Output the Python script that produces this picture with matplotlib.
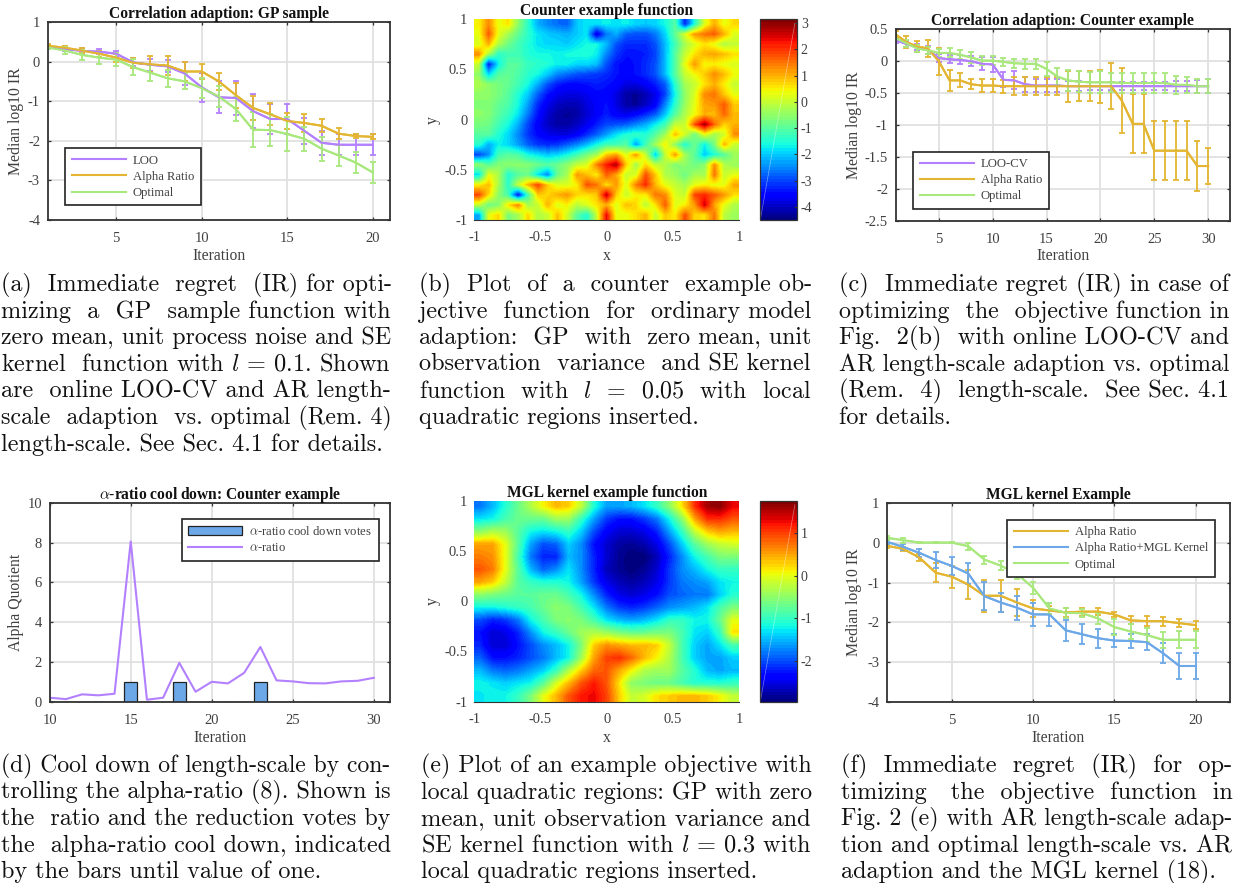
import matplotlib
matplotlib.use('Agg')
from matplotlib import pyplot as plt
from matplotlib.ticker import FormatStrFormatter
from matplotlib.transforms import Affine2D
import numpy as np

W, H = 1233, 883

plt.rcParams['font.family'] = ['Liberation Serif', 'DejaVu Serif']
plt.rcParams['mathtext.fontset'] = 'cm'
plt.rcParams['axes.unicode_minus'] = False

PURPLE = '#b380ff'
GOLD = '#e3b530'
GREEN = '#a8e87c'
BLUE = '#6ca8e8'
DARK = '#333333'
TEXT = '#404040'

# (a) GP sample
a_loo = [0.37, 0.32, 0.27, 0.25, 0.2, -0.02, -0.08, -0.12, -0.3, -0.65, -0.9, -0.92, -1.25, -1.45, -1.45, -1.75, -2.05, -2.1, -2.1, -2.1]
a_loo_err = [0.05, 0.06, 0.07, 0.06, 0.08, 0.1, 0.15, 0.15, 0.28, 0.36, 0.4, 0.42, 0.42, 0.38, 0.37, 0.32, 0.3, 0.27, 0.27, 0.27]
a_alpha = [0.4, 0.35, 0.28, 0.2, 0.1, -0.03, -0.07, -0.1, -0.25, -0.25, -0.5, -0.85, -1.17, -1.33, -1.5, -1.55, -1.62, -1.82, -1.88, -1.9]
a_alpha_err = [0.04, 0.05, 0.06, 0.08, 0.1, 0.12, 0.2, 0.24, 0.25, 0.2, 0.22, 0.32, 0.3, 0.28, 0.2, 0.22, 0.17, 0.14, 0.06, 0.06]
a_opt = [0.36, 0.28, 0.17, 0.1, 0.05, -0.14, -0.28, -0.42, -0.5, -0.67, -0.88, -1.2, -1.72, -1.73, -1.83, -1.95, -2.2, -2.37, -2.55, -2.8]
a_opt_err = [0.04, 0.09, 0.13, 0.15, 0.17, 0.2, 0.2, 0.22, 0.2, 0.25, 0.26, 0.3, 0.44, 0.4, 0.42, 0.3, 0.3, 0.27, 0.27, 0.27]

# (c) counter example
c_loo = [0.33, 0.27, 0.22, 0.18, 0.05, 0.03, 0.02, 0.0, -0.04, -0.05, -0.29, -0.3, -0.36, -0.38, -0.38, -0.38, -0.39, -0.39, -0.39, -0.39, -0.39, -0.39, -0.39, -0.39, -0.39, -0.39, -0.39, -0.39, -0.39, -0.39]
c_loo_err = [0.04, 0.04, 0.05, 0.06, 0.06, 0.06, 0.07, 0.08, 0.1, 0.12, 0.12, 0.14, 0.12, 0.1, 0.1, 0.1, 0.08, 0.08, 0.06, 0.06, 0.06, 0.06, 0.06, 0.06, 0.06, 0.06, 0.08, 0.08, 0.1, 0.11]
c_alpha = [0.42, 0.3, 0.23, 0.2, 0.0, -0.3, -0.3, -0.36, -0.38, -0.38, -0.39, -0.39, -0.39, -0.39, -0.39, -0.39, -0.39, -0.39, -0.39, -0.39, -0.39, -0.62, -0.98, -0.98, -1.4, -1.4, -1.4, -1.4, -1.64, -1.64]
c_alpha_err = [0.06, 0.1, 0.08, 0.14, 0.21, 0.16, 0.11, 0.08, 0.1, 0.1, 0.1, 0.14, 0.14, 0.14, 0.14, 0.14, 0.24, 0.23, 0.23, 0.26, 0.36, 0.51, 0.46, 0.46, 0.46, 0.46, 0.46, 0.46, 0.39, 0.28]
c_opt = [0.36, 0.28, 0.2, 0.17, 0.13, 0.13, 0.1, 0.06, 0.01, 0.01, -0.01, -0.03, -0.04, -0.04, -0.12, -0.24, -0.3, -0.32, -0.33, -0.33, -0.33, -0.34, -0.34, -0.34, -0.34, -0.34, -0.37, -0.37, -0.39, -0.39]
c_opt_err = [0.04, 0.05, 0.05, 0.06, 0.06, 0.07, 0.07, 0.08, 0.07, 0.07, 0.06, 0.07, 0.08, 0.08, 0.11, 0.13, 0.16, 0.16, 0.16, 0.17, 0.15, 0.15, 0.15, 0.15, 0.15, 0.15, 0.14, 0.12, 0.11, 0.11]

# (d) cool down
d_iter = [10, 11, 12, 13, 14, 15, 16, 17, 18, 19, 20, 21, 22, 23, 24, 25, 26, 27, 28, 29, 30]
d_ratio = [0.2, 0.13, 0.37, 0.32, 0.4, 8.05, 0.1, 0.2, 1.95, 0.5, 1.0, 0.92, 1.45, 2.75, 1.07, 1.02, 0.93, 0.92, 1.02, 1.05, 1.2]
d_votes = [0, 0, 0, 0, 0, 1, 0, 0, 1, 0, 0, 0, 0, 1, 0, 0, 0, 0, 0, 0, 0]

# (f) MGL kernel
f_alpha = [-0.07, -0.15, -0.37, -0.75, -0.85, -1.05, -1.33, -1.33, -1.5, -1.65, -1.7, -1.75, -1.73, -1.73, -1.8, -1.95, -1.97, -1.97, -2.02, -2.07]
f_alpha_err = [0.05, 0.06, 0.09, 0.24, 0.28, 0.36, 0.4, 0.4, 0.35, 0.22, 0.1, 0.12, 0.1, 0.08, 0.07, 0.1, 0.12, 0.11, 0.1, 0.1]
f_mgl = [0.03, -0.1, -0.25, -0.43, -0.58, -0.77, -1.34, -1.5, -1.63, -1.8, -1.8, -2.2, -2.3, -2.4, -2.46, -2.47, -2.5, -2.78, -3.1, -3.1]
f_mgl_err = [0.05, 0.07, 0.11, 0.2, 0.22, 0.27, 0.35, 0.25, 0.3, 0.3, 0.28, 0.27, 0.25, 0.24, 0.17, 0.17, 0.2, 0.25, 0.32, 0.33]
f_opt = [0.13, 0.07, 0.01, 0.01, 0.01, -0.08, -0.42, -0.57, -0.78, -1.13, -1.65, -1.76, -1.77, -1.9, -2.12, -2.23, -2.32, -2.44, -2.44, -2.44]
f_opt_err = [0.05, 0.06, 0.01, 0.01, 0.01, 0.09, 0.1, 0.11, 0.13, 0.15, 0.14, 0.13, 0.1, 0.14, 0.2, 0.18, 0.17, 0.2, 0.21, 0.21]

# (b) counter example function, top row is y = 1
b_grid = [
    [.5, 1.3, .3, .6, -.5, -1.4, -2.2, -2.5, -2.7, -2.8, -2.0, -1.8, -1.8, -1.7, -1.8, -1.7, -1.9, -2.0, -1.9, -1.6, -1.0, -3.2, -1.5, .2, 1.0, .3, .7],
    [.3, 1.7, .3, -.3, -.9, -1.4, -1.8, -2.0, -2.1, -2.2, -2.0, -1.8, -3.8, -2.6, -2.2, -2.8, -2.9, -2.9, -2.6, -1.9, -.9, .2, 1.2, 1.5, 1.7, 1.0, .2],
    [.2, 1.0, -.2, -.8, -1.2, -1.5, -1.8, -1.9, -1.9, -2.0, -1.8, -1.6, -1.6, -2.1, -2.9, -3.2, -3.2, -3.2, -2.9, -2.1, -1.2, -.3, .2, .6, .3, -.2, .0],
    [1.3, -.3, -1.4, -1.2, -1.2, -1.5, -1.6, -1.6, -1.7, -1.6, -1.5, -1.5, -1.7, -2.5, -3.1, -3.4, -3.4, -3.3, -3.0, -2.1, -1.0, .0, .6, 1.0, 1.1, .9, .6],
    [.0, -3.3, -1.7, -1.0, -1.0, -1.3, -1.4, -1.5, -1.7, -1.7, -1.9, -1.9, -2.1, -2.9, -3.4, -3.5, -3.4, -3.2, -2.9, -2.1, -1.0, .3, 1.2, .4, .5, .3, .2],
    [-.5, -1.9, -1.0, -.9, -1.1, -1.4, -1.6, -2.0, -2.5, -2.7, -2.9, -3.0, -3.1, -3.2, -3.4, -3.5, -3.4, -3.2, -2.9, -2.1, -1.0, .0, .4, .8, 1.3, .9, .4],
    [-.2, -.5, -.7, -.9, -1.2, -1.6, -2.2, -2.9, -3.3, -3.5, -3.5, -3.4, -3.3, -3.4, -3.5, -3.8, -3.8, -3.6, -3.3, -2.8, -1.4, -.3, .0, .6, 1.0, .5, .0],
    [-.5, -.5, -.7, -1.0, -1.5, -2.0, -2.8, -3.4, -3.7, -3.8, -3.8, -3.7, -3.5, -3.5, -3.8, -4.2, -4.3, -4.1, -3.7, -3.0, -1.6, -.5, .2, 1.3, 1.5, .8, .3],
    [-.6, -.6, -.9, -1.1, -1.6, -2.3, -3.2, -3.7, -4.0, -4.1, -4.1, -3.8, -3.6, -3.4, -3.8, -4.2, -4.3, -4.0, -3.6, -2.5, -1.4, -.4, .3, 1.1, 1.2, 1.7, .8],
    [-.5, -.6, -1.0, -1.3, -1.8, -2.6, -3.4, -3.9, -4.2, -4.3, -4.2, -3.9, -3.6, -3.3, -3.6, -3.7, -3.5, -3.2, -2.8, -2.0, -1.0, -.2, .4, 1.0, .9, 1.6, .9],
    [-.7, -.8, -1.2, -1.6, -2.2, -3.0, -3.6, -4.0, -4.2, -4.2, -4.0, -3.7, -3.3, -3.0, -2.9, -2.8, -2.5, -2.2, -1.7, -1.2, .0, .0, 1.8, 2.9, 1.6, .7, 1.0],
    [-1.0, -1.0, -1.5, -1.9, -2.5, -3.1, -3.5, -3.7, -3.8, -3.8, -3.6, -3.2, -2.8, -2.3, -1.8, -1.5, -1.3, -1.5, -1.0, -.3, .9, .1, -.8, .3, -.3, .1, 1.3],
    [-1.4, -2.2, -1.7, -1.9, -2.3, -2.8, -3.1, -3.2, -3.1, -2.8, -2.5, -2.1, -1.6, -1.2, -1.2, -1.0, -2.3, -1.2, -.3, .5, -.5, -1.5, -.8, -1.7, -.7, 1.0, .0],
    [-3.0, -2.4, -1.2, -1.0, -1.1, -1.6, -1.8, -2.0, -1.9, -1.6, -1.2, -.7, -.3, .8, 1.1, .2, 1.2, .0, -2.0, .0, 1.2, -.3, -1.0, -2.0, -1.5, -1.0, -.4],
    [-.5, -1.0, -.6, -.5, -.5, -.6, -.8, -1.0, -.8, -.5, .0, .2, 1.4, 2.2, 2.8, .8, -.3, .7, .0, -.2, -.6, -.5, -.8, -.5, 1.3, -.2, -.4],
    [-1.8, .3, -.2, -1.5, -1.0, -.8, -1.8, -2.5, -.8, -.3, 1.2, .9, .5, 1.7, 1.1, .0, .2, 1.8, .8, -.2, -.4, -.8, -.3, -.3, 1.5, .0, .3],
    [.5, .9, -.3, -1.4, .0, 1.0, 1.9, .8, .2, .2, .5, 1.8, 1.5, .6, 1.2, .2, 1.4, 2.1, .9, .3, .0, -.3, .3, .5, .3, .3, 1.1],
    [1.9, .7, -.5, -1.2, -3.4, -1.2, .8, .7, 1.0, 1.2, .7, .6, .8, 2.7, .8, .0, .5, .5, 1.5, 1.3, .2, .0, 1.9, 2.1, 1.7, 1.2, .6],
    [.0, -.8, -.6, .6, 1.4, -.3, .0, 1.0, .2, .5, -.1, .2, .6, 1.0, .2, .9, .7, -.1, .6, 1.7, .2, .5, 1.2, 2.6, 1.1, .3, -.2],
    [-2.3, .3, .7, -.7, -.3, .7, -.2, .0, .9, .1, -1.0, -1.5, .0, 2.4, .3, .3, .6, 1.0, .0, .8, .5, 1.8, .7, .6, 1.5, -.1, -.4],
]

# (e) MGL kernel function, top row is y = 1
e_grid = [
    [-1.8, -1.5, -1.1, -.7, -.3, .1, .4, .3, -.2, -1.1, -1.6, -1.6, -1.5, -1.3, -1.0, -.5, .2, 1.1, 1.6, 1.7, 1.3],
    [-1.3, -1.2, -.9, -.7, -.7, -.7, -.4, -.4, -1.0, -1.6, -2.1, -2.3, -2.3, -2.1, -1.8, -1.2, -.5, .5, 1.1, 1.1, .9],
    [-.5, -.3, -.4, -.8, -1.2, -1.3, -1.2, -1.0, -1.4, -2.0, -2.4, -2.6, -2.6, -2.5, -2.2, -1.6, -1.0, -.2, .3, .5, .4],
    [.5, .5, .0, -.8, -1.6, -2.0, -1.9, -1.4, -1.7, -2.3, -2.6, -2.8, -2.85, -2.75, -2.5, -2.0, -1.4, -.8, -.4, -.2, -.1],
    [.7, .6, .0, -.9, -1.8, -2.2, -2.2, -1.5, -1.7, -2.2, -2.6, -2.85, -2.97, -2.95, -2.7, -2.2, -1.7, -1.2, -.9, -.6, -.6],
    [.9, .7, .0, -.8, -1.5, -1.9, -1.7, -1.3, -1.7, -2.2, -2.7, -2.85, -2.95, -2.85, -2.6, -2.1, -1.7, -1.5, -1.2, -1.0, -1.0],
    [.5, .3, -.2, -.8, -1.0, -1.1, -1.1, -1.2, -1.6, -2.1, -2.5, -2.7, -2.8, -2.7, -2.5, -2.1, -1.8, -1.7, -1.6, -1.3, -1.2],
    [-.5, -.6, -.7, -.8, -.8, -.7, -.7, -.9, -1.2, -1.7, -2.2, -2.5, -2.6, -2.5, -2.3, -2.0, -1.9, -1.8, -1.8, -1.4, -1.1],
    [-1.2, -1.2, -1.1, -1.0, -.9, -.7, -.5, -.6, -.9, -1.3, -1.8, -2.1, -2.2, -2.1, -1.9, -1.7, -1.6, -1.5, -1.3, -.9, -.6],
    [-2.0, -2.2, -2.1, -1.8, -1.2, -.9, -.6, -.5, -.6, -.9, -1.3, -1.5, -1.6, -1.5, -1.3, -1.0, -1.0, -1.2, -1.2, -.7, .0],
    [-2.3, -2.6, -2.5, -2.2, -1.7, -1.2, -1.0, -.7, -.4, -.3, -.4, -.6, -.7, -.7, -.6, -.6, -.9, -1.3, -1.4, -1.0, .2],
    [-2.2, -2.6, -2.6, -2.3, -2.0, -1.7, -1.5, -1.2, -.6, .3, .6, .5, .4, .4, .3, -.2, -.9, -1.4, -1.6, -1.3, -.9],
    [-1.9, -2.3, -2.3, -2.2, -2.0, -1.8, -1.5, -1.2, -.4, .5, 1.0, 1.1, .8, .4, .1, -.3, -.9, -1.4, -1.6, -1.6, -1.4],
    [-1.5, -1.8, -1.9, -1.8, -1.6, -1.4, -1.0, -.3, .3, .8, .9, .5, .1, -.3, -.4, -.4, -.8, -1.1, -1.5, -1.6, -1.5],
    [-1.2, -1.3, -1.4, -1.3, -1.2, -.8, -.1, .4, .9, 1.2, .9, .2, -.5, -.6, -.7, -.7, -.9, -1.1, -1.1, -1.1, -1.0],
    [-1.3, -1.2, -1.2, -1.0, -.6, .0, .4, .9, 1.2, 1.3, 1.0, .3, -.2, -.1, .2, .3, .4, .4, .3, .1, -.2],
]

# captions: (left, right, first baseline, lines)
captions = [
    (1, 391, 291, ['(a) Immediate regret (IR) for opti-', 'mizing a GP sample function with', 'zero mean, unit process noise and SE', 'kernel function with $l$ = 0.1. Shown', 'are online LOO-CV and AR length-', 'scale adaption vs. optimal (Rem. 4)', 'length-scale. See Sec. 4.1 for details.']),
    (419, 811.5, 291, ['(b) Plot of a counter example ob-', 'jective function for ordinary model', 'adaption: GP with zero mean, unit', 'observation variance and SE kernel', 'function with $l$ = 0.05 with local', 'quadratic regions inserted.']),
    (839, 1229.5, 291, ['(c) Immediate regret (IR) in case of', 'optimizing the objective function in', 'Fig. 2(b) with online LOO-CV and', 'AR length-scale adaption vs. optimal', '(Rem. 4) length-scale. See Sec. 4.1', 'for details.']),
    (1, 391, 772, ['(d) Cool down of length-scale by con-', 'trolling the alpha-ratio (8). Shown is', 'the ratio and the reduction votes by', 'the alpha-ratio cool down, indicated', 'by the bars until value of one.']),
    (421, 811.5, 772, ['(e) Plot of an example objective with', 'local quadratic regions: GP with zero', 'mean, unit observation variance and', 'SE kernel function with $l$ = 0.3 with', 'local quadratic regions inserted.']),
    (841, 1232, 772, ['(f) Immediate regret (IR) for op-', 'timizing the objective function in', 'Fig. 2 (e) with AR length-scale adap-', 'tion and optimal length-scale vs. AR', 'adaption and the MGL kernel (18).']),
]

fig = plt.figure(figsize=(W / 100, H / 100), dpi=100)
px = Affine2D().scale(1, -1).translate(0, H)


def make_axes(left, top, right, bottom):
    return fig.add_axes([left / W, 1 - bottom / H, (right - left) / W, (bottom - top) / H])


def place_labels(ax, xlabel, ylabel, xlab_y, ylab_x):
    ax.set_xlabel(xlabel, fontsize=11.3, color=TEXT, va='center')
    ax.set_ylabel(ylabel, fontsize=11.3, color=TEXT, va='center')
    box = ax.get_position()
    ax.xaxis.set_label_coords(box.x0 * W + box.width * W / 2, xlab_y, transform=px)
    ax.yaxis.set_label_coords(ylab_x, (1 - box.y0 - box.height / 2) * H, transform=px)


def style_line_axes(ax, title, xlabel, ylabel, xlim, ylim, xticks, yticks, xlab_y, ylab_x):
    ax.set_xlim(xlim)
    ax.set_ylim(ylim)
    ax.set_xticks(xticks)
    ax.set_yticks(yticks)
    ax.yaxis.set_major_formatter(FormatStrFormatter('%g'))
    ax.grid(True, color='#e0e0e0', lw=1.3)
    ax.set_axisbelow(True)
    ax.tick_params(direction='in', top=True, right=True, length=2.5, width=0.9,
                   color=DARK, labelcolor=TEXT, labelsize=10.5)
    ax.tick_params(axis='x', pad=8.5)
    ax.tick_params(axis='y', pad=5.5)
    for s in ax.spines.values():
        s.set_linewidth(1.3)
        s.set_color(DARK)
    ax.set_title(title, fontsize=11.2, fontweight='bold', pad=3, color='#111111')
    place_labels(ax, xlabel, ylabel, xlab_y, ylab_x)


def draw_series(ax, y, err, color, label):
    x = np.arange(1, len(y) + 1)
    ax.errorbar(x, y, yerr=err, color=color, lw=1.4, elinewidth=1.3, capsize=2.3, capthick=1.3)
    ax.plot(x, y, color=color, lw=1.5, label=label)


def add_legend(ax, left, top, handles=None):
    leg = ax.legend(handles=handles, loc='upper left', bbox_to_anchor=(left, top), bbox_transform=px,
                    fontsize=9.1, fancybox=False, framealpha=1, edgecolor='#222222', borderaxespad=0,
                    handlelength=4.3, handletextpad=0.55, labelspacing=0.33, borderpad=0.5)
    leg.get_frame().set_linewidth(1.2)
    for t in leg.get_texts():
        t.set_color(TEXT)
    return leg


def draw_heatmap(ax, cax, grid, title, vmin, vmax, cticks, ylab_x, xlab_y):
    im = ax.imshow(grid, extent=(-1, 1, -1, 1), aspect='auto', cmap=plt.get_cmap('jet', 64),
                   vmin=vmin, vmax=vmax, interpolation='bilinear', interpolation_stage='data')
    ax.set_xticks([-1, -0.5, 0, 0.5, 1])
    ax.set_yticks([-1, -0.5, 0, 0.5, 1])
    ax.xaxis.set_major_formatter(FormatStrFormatter('%g'))
    ax.yaxis.set_major_formatter(FormatStrFormatter('%g'))
    ax.tick_params(length=0, labelcolor=TEXT, labelsize=10.5)
    ax.tick_params(axis='x', pad=8)
    ax.tick_params(axis='y', pad=5)
    for name, s in ax.spines.items():
        s.set_visible(name == 'bottom')
        s.set_color(DARK)
    ax.set_title(title, fontsize=11.2, fontweight='bold', pad=3, color='#111111')
    place_labels(ax, 'x', 'y', xlab_y, ylab_x)
    cb = fig.colorbar(im, cax=cax)
    cb.set_ticks(cticks)
    cb.ax.yaxis.set_major_formatter(FormatStrFormatter('%g'))
    cb.ax.tick_params(direction='in', length=2, width=0.8, color=DARK, labelcolor=TEXT, labelsize=10, pad=3)
    cb.outline.set_edgecolor(DARK)
    cb.outline.set_linewidth(0.9)
    cax.plot([0, 0.95], [0, 0.98], transform=cax.transAxes, color='white', lw=0.5, alpha=0.45)


# (a)
ax = make_axes(47.7, 22, 390, 220)
style_line_axes(ax, 'Correlation adaption: GP sample', 'Iteration', 'Median log10 IR', (1, 21), (-4, 1),
                [5, 10, 15, 20], [-4, -3, -2, -1, 0, 1], 256, 15.7)
draw_series(ax, a_loo, a_loo_err, PURPLE, 'LOO')
draw_series(ax, a_alpha, a_alpha_err, GOLD, 'Alpha Ratio')
draw_series(ax, a_opt, a_opt_err, GREEN, 'Optimal')
add_legend(ax, 65.3, 148.3)

# (b)
ax = make_axes(474.3, 19.3, 739.3, 220)
cax = make_axes(760.3, 19.3, 796.7, 220)
draw_heatmap(ax, cax, b_grid, 'Counter example function', -4.5, 3.15, [-4, -3, -2, -1, 0, 1, 2, 3], 433, 256)

# (c)
ax = make_axes(895.7, 29.3, 1229.7, 221)
style_line_axes(ax, 'Correlation adaption: Counter example', 'Iteration', 'Median log10 IR', (1, 32), (-2.5, 0.5),
                [5, 10, 15, 20, 25, 30], [-2.5, -2, -1.5, -1, -0.5, 0, 0.5], 256, 854)
draw_series(ax, c_loo, c_loo_err, PURPLE, 'LOO-CV')
draw_series(ax, c_alpha, c_alpha_err, GOLD, 'Alpha Ratio')
draw_series(ax, c_opt, c_opt_err, GREEN, 'Optimal')
add_legend(ax, 913.3, 151.7)

# (d)
ax = make_axes(49.7, 502.7, 390, 701.7)
style_line_axes(ax, r'$\alpha$-ratio cool down: Counter example', 'Iteration', 'Alpha Quotient', (10, 31), (0, 10),
                [10, 15, 20, 25, 30], [0, 2, 4, 6, 8, 10], 738, 15.7)
bars = ax.bar(d_iter, d_votes, width=0.8, color=BLUE, edgecolor='#222222', lw=0.9, label=r'$\alpha$-ratio cool down votes')
line, = ax.plot(d_iter, d_ratio, color=PURPLE, lw=1.5, label=r'$\alpha$-ratio')
add_legend(ax, 181.7, 519, handles=[bars, line])

# (e)
ax = make_axes(474.3, 500.7, 739.3, 701.7)
cax = make_axes(760.3, 500.7, 796.7, 701.7)
draw_heatmap(ax, cax, e_grid, 'MGL kernel example function', -2.97, 1.77, [-2, -1, 0, 1], 433, 738)

# (f)
ax = make_axes(887, 503.3, 1229.7, 701.7)
style_line_axes(ax, 'MGL kernel Example', 'Iteration', 'Median log10 IR', (1, 22.1), (-4, 1),
                [5, 10, 15, 20], [-4, -3, -2, -1, 0, 1], 738, 853.7)
draw_series(ax, f_alpha, f_alpha_err, GOLD, 'Alpha Ratio')
draw_series(ax, f_mgl, f_mgl_err, BLUE, 'Alpha Ratio+MGL Kernel')
draw_series(ax, f_opt, f_opt_err, GREEN, 'Optimal')
add_legend(ax, 1007.3, 520)

# captions, justified by padding the spaces and fitting the size to the column
renderer = fig.canvas.get_renderer()
BASE = 17.4
for left, right, first, lines in captions:
    for i, line in enumerate(lines):
        y = first + i * 26.6
        t = fig.text(left, y, line, transform=px, family=['cmr10', 'Liberation Serif'],
                     fontsize=BASE, color='#111111', va='baseline', ha='left')
        if i == len(lines) - 1:
            continue
        target = right - left
        parts = line.split(' ')
        width = t.get_window_extent(renderer).width
        t.set_text(line + ' |')
        w1 = t.get_window_extent(renderer).width
        t.set_text(line + '  |')
        space = t.get_window_extent(renderer).width - w1
        extra = max(0, int(round((target - width) / space)))
        gaps = [1] * (len(parts) - 1)
        for k in range(extra):
            gaps[k % len(gaps)] += 1
        padded = parts[0]
        for g, p in zip(gaps, parts[1:]):
            padded += ' ' * g + p
        t.set_text(padded)
        t.set_fontsize(BASE * target / t.get_window_extent(renderer).width)

fig.savefig('out.png', dpi=100)
